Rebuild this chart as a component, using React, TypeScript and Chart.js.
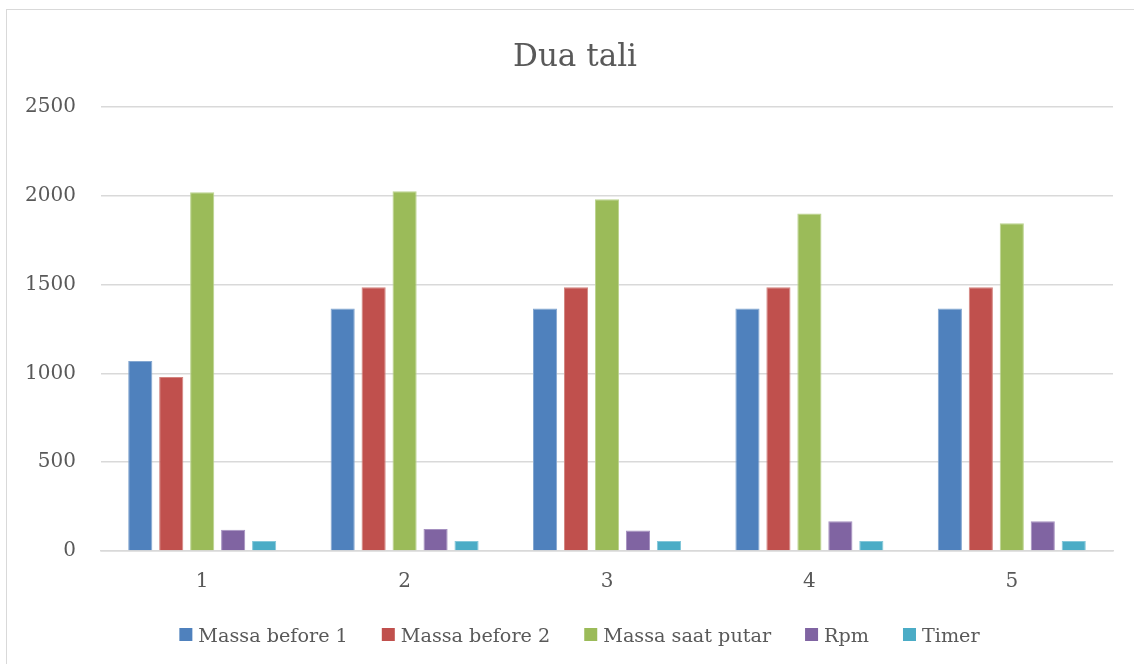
import React, { useEffect, useRef } from "react";
import { Chart, registerables } from "chart.js";

Chart.register(...registerables);

const categories = ["1", "2", "3", "4", "5"];
const massaBefore1 = [1070, 1365, 1365, 1365, 1365];
const massaBefore2 = [980, 1485, 1485, 1485, 1485];
const massaSaatPutar = [2020, 2025, 1980, 1900, 1845];
const rpm = [120, 124, 115, 167, 168];
const timer = [57, 57, 57, 57, 57];
const yTicks = [0, 500, 1000, 1500, 2000, 2500];

const chartTitle = "Dua tali";
const seriesNames = ["Massa before 1", "Massa before 2", "Massa saat putar", "Rpm", "Timer"];
const seriesColors = ["#4F81BD", "#C0504D", "#9BBB59", "#8064A2", "#4BACC6"];
const seriesEdges = ["#84A7D1", "#D3847F", "#BBD38E", "#A590C0", "#84C7D9"];

const FONT = "'DejaVu Serif', serif";
const TEXT = "#595959";

const titleAndLegend = {
  id: "titleAndLegend",
  afterDraw(chart: any) {
    const ctx = chart.ctx;
    ctx.save();
    ctx.fillStyle = TEXT;
    ctx.font = `31px ${FONT}`;
    ctx.textAlign = "center";
    ctx.textBaseline = "alphabetic";
    ctx.fillText(chartTitle, 575, 66);
    ctx.font = `19.2px ${FONT}`;
    ctx.textAlign = "left";
    const box = 13;
    const textGap = 6;
    const itemGap = 34;
    const items = chart.data.datasets.map((ds: any) => ({
      label: ds.label,
      color: ds.backgroundColor,
      w: ctx.measureText(ds.label).width,
    }));
    const total =
      items.reduce((s: number, it: any) => s + box + textGap + it.w, 0) + itemGap * (items.length - 1);
    let x = 579.5 - total / 2;
    for (const it of items) {
      ctx.fillStyle = it.color;
      ctx.fillRect(x, 628, box, box);
      ctx.fillStyle = TEXT;
      ctx.fillText(it.label, x + box + textGap, 642);
      x += box + textGap + it.w + itemGap;
    }
    ctx.restore();
  },
};

export default function App() {
  const ref = useRef<HTMLCanvasElement | null>(null);

  useEffect(() => {
    if (!ref.current) return;
    const data = [massaBefore1, massaBefore2, massaSaatPutar, rpm, timer];
    const chart = new Chart(ref.current, {
      type: "bar",
      data: {
        labels: categories,
        datasets: data.map((d, i) => ({
          label: seriesNames[i],
          data: d,
          backgroundColor: seriesColors[i],
          borderColor: seriesEdges[i],
          borderWidth: 1,
          barPercentage: 0.78,
          categoryPercentage: 0.765,
        })),
      },
      plugins: [titleAndLegend],
      options: {
        animation: false,
        responsive: false,
        maintainAspectRatio: false,
        layout: { padding: { left: 25, right: 21, top: 107, bottom: 70 } },
        plugins: {
          title: { display: false },
          legend: { display: false },
          tooltip: { enabled: false },
        },
        scales: {
          x: {
            afterFit: (axis: any) => {
              axis.height = 43;
            },
            grid: { display: false, drawTicks: false },
            border: { display: true, color: "#d9d9d9", width: 1.5 },
            ticks: { color: TEXT, font: { family: FONT, size: 20 }, padding: 19 },
          },
          y: {
            min: 0,
            max: 2500,
            afterBuildTicks: (axis: any) => {
              axis.ticks = yTicks.map((v) => ({ value: v }));
            },
            afterFit: (axis: any) => {
              axis.width = 76;
            },
            ticks: {
              color: TEXT,
              font: { family: FONT, size: 20 },
              padding: 25,
              callback: (v: any) => String(v),
            },
            grid: { color: "#d9d9d9", lineWidth: 1.5, drawTicks: false },
            border: { display: false },
          },
        },
      },
    });
    return () => chart.destroy();
  }, []);

  return (
    <div style={{ position: "fixed", left: 0, top: 0, width: 1134, height: 664, overflow: "hidden", background: "#fff" }}>
      <div
        style={{
          position: "absolute",
          left: 6,
          top: 9,
          width: 1200,
          height: 700,
          border: "1.5px solid #d9d9d9",
        }}
      />
      <canvas ref={ref} width={1134} height={664} style={{ position: "absolute", left: 0, top: 0 }} />
    </div>
  );
}
